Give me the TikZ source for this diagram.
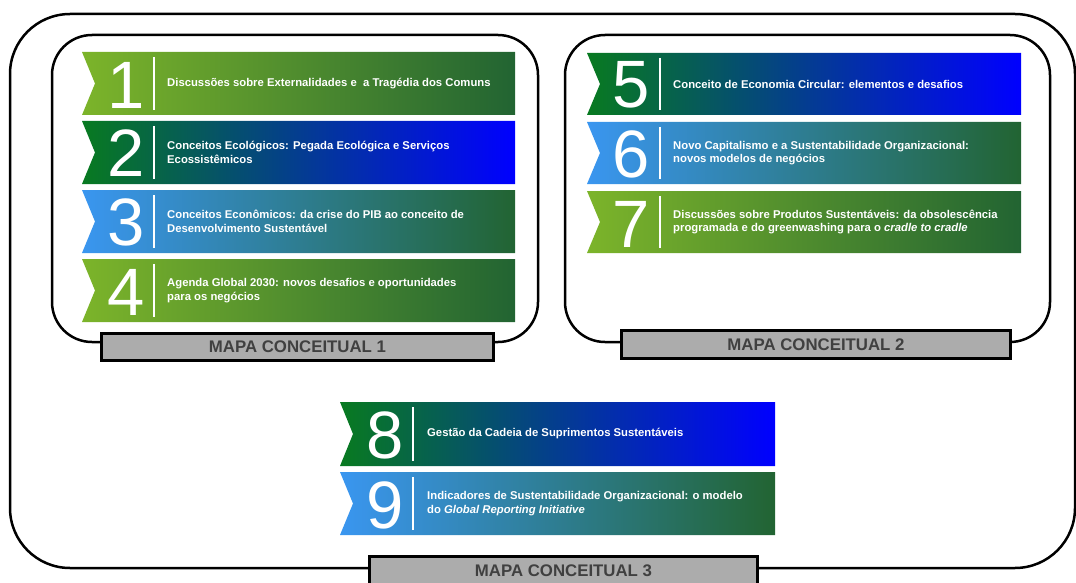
\documentclass[tikz,border=0pt]{standalone}
\usepackage{fontspec}
\setmainfont{Liberation Sans}
\definecolor{limeleft}{RGB}{124,180,42}
\definecolor{darkright}{RGB}{34,100,50}
\definecolor{greenleft}{RGB}{8,122,32}
\definecolor{navymid}{RGB}{8,58,108}
\definecolor{pureblue}{RGB}{0,0,255}
\definecolor{skyleft}{RGB}{58,150,240}
\definecolor{boxgray}{RGB}{172,172,172}
\definecolor{labelgray}{RGB}{64,64,64}

\begin{document}
\begin{tikzpicture}[x=1pt,y=-1pt]
\tikzstyle{every node}=[inner sep=0pt]
\tikzstyle{limeband}=[left color=limeleft,right color=darkright]
\tikzstyle{blueband}=[left color=greenleft,middle color=navymid,right color=pureblue]
\tikzstyle{skyband}=[left color=skyleft,right color=darkright]
\tikzstyle{numeral}=[text=white,font=\fontsize{67}{67}\selectfont]
\tikzstyle{topic}=[text=white,anchor=west,align=left,font=\fontsize{11.3}{13.5}\selectfont\bfseries]
\tikzstyle{sepline}=[white,line width=2pt]
\tikzstyle{mapframe}=[line width=2.5pt]
\tikzstyle{mapa}=[draw=black,line width=3pt,fill=boxgray,text=labelgray,font=\fontsize{16.8}{18}\selectfont\bfseries]
\useasboundingbox (0,0) rectangle (1076,583);
\clip (0,0) rectangle (1076,583);
% frames
\draw[mapframe,rounded corners=60pt] (10,14) rectangle (1075,568);
\draw[mapframe,rounded corners=40pt] (52,35) rectangle (538,342);
\draw[mapframe,rounded corners=40pt] (565,35) rectangle (1050,342);
\node[mapa,minimum width=392pt,minimum height=27pt] (m1) at (297.5,347) {MAPA CONCEITUAL 1};
\node[mapa,minimum width=389pt,minimum height=28pt] (m2) at (816,344.5) {MAPA CONCEITUAL 2};
\node[mapa,minimum width=388pt,minimum height=29pt] (m3) at (563.5,571) {MAPA CONCEITUAL 3};
% mapa 1
\begin{scope}[shift={(82,52)}]
\shade[limeband] (0,0) -- (433,0) -- (433,63) -- (0,63) -- (13,31.5) -- cycle;
\draw[sepline] (72,5) -- (72,58);
\node[numeral] (d1) at (44,33) {1};
\node[topic] (t1) at (85,31.5) {Discussões sobre Externalidades e~ a Tragédia dos Comuns};
\end{scope}
\begin{scope}[shift={(82,121)}]
\shade[blueband] (0,0) -- (433,0) -- (433,63) -- (0,63) -- (13,31.5) -- cycle;
\draw[sepline] (72,5) -- (72,58);
\node[numeral] (d2) at (44,32) {2};
\node[topic] (t2) at (85,31.5) {Conceitos Ecológicos: Pegada Ecológica e Serviços\\Ecossistêmicos};
\end{scope}
\begin{scope}[shift={(82,190)}]
\shade[skyband] (0,0) -- (433,0) -- (433,63) -- (0,63) -- (13,31.5) -- cycle;
\draw[sepline] (72,5) -- (72,58);
\node[numeral] (d3) at (44,32) {3};
\node[topic] (t3) at (85,31.5) {Conceitos Econômicos: da crise do PIB ao conceito de\\Desenvolvimento Sustentável};
\end{scope}
\begin{scope}[shift={(82,259)}]
\shade[limeband] (0,0) -- (433,0) -- (433,63) -- (0,63) -- (13,31.5) -- cycle;
\draw[sepline] (72,5) -- (72,58);
\node[numeral] (d4) at (44,33) {4};
\node[topic] (t4) at (85,31.5) {Agenda Global 2030: novos desafios e oportunidades\\para os negócios};
\end{scope}
% mapa 2
\begin{scope}[shift={(587,53)}]
\shade[blueband] (0,0) -- (434,0) -- (434,62) -- (0,62) -- (13,31) -- cycle;
\draw[sepline] (73,5) -- (73,57);
\node[numeral] (d5) at (44,32) {5};
\node[topic] (t5) at (86,31) {Conceito de Economia Circular: elementos e desafios};
\end{scope}
\begin{scope}[shift={(587,122)}]
\shade[skyband] (0,0) -- (434,0) -- (434,62) -- (0,62) -- (13,31) -- cycle;
\draw[sepline] (73,5) -- (73,57);
\node[numeral] (d6) at (44,32) {6};
\node[topic] (t6) at (86,31) {Novo Capitalismo e a Sustentabilidade Organizacional:\\novos modelos de negócios};
\end{scope}
\begin{scope}[shift={(587,191)}]
\shade[limeband] (0,0) -- (434,0) -- (434,62) -- (0,62) -- (13,31) -- cycle;
\draw[sepline] (73,5) -- (73,57);
\node[numeral] (d7) at (44,33) {7};
\node[topic] (t7) at (86,31) {Discussões sobre Produtos Sustentáveis: da obsolescência\\programada e do greenwashing para o \textit{cradle to cradle}};
\end{scope}
% mapa 3
\begin{scope}[shift={(340,402)}]
\shade[blueband] (0,0) -- (435,0) -- (435,64) -- (0,64) -- (13,32) -- cycle;
\draw[sepline] (73,5) -- (73,59);
\node[numeral] (d8) at (45,33) {8};
\node[topic] (t8) at (87,32) {Gestão da Cadeia de Suprimentos Sustentáveis};
\end{scope}
\begin{scope}[shift={(340,472)}]
\shade[skyband] (0,0) -- (435,0) -- (435,63) -- (0,63) -- (13,31.5) -- cycle;
\draw[sepline] (73,5) -- (73,58);
\node[numeral] (d9) at (45,33) {9};
\node[topic] (t9) at (87,31.5) {Indicadores de Sustentabilidade Organizacional: o modelo\\do \textit{Global Reporting Initiative}};
\end{scope}
\end{tikzpicture}
\end{document}
